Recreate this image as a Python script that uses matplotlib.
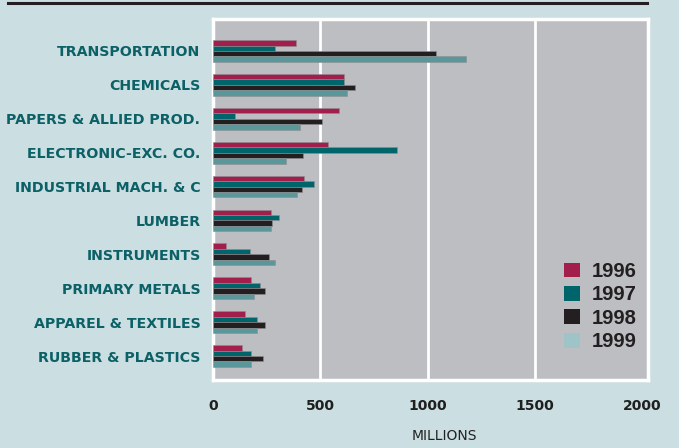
import numpy as np
import matplotlib
matplotlib.use("Agg")
import matplotlib.pyplot as plt
from matplotlib.patches import Patch

categories = ["TRANSPORTATION", "CHEMICALS", "PAPERS & ALLIED PROD.",
              "ELECTRONIC-EXC. CO.", "INDUSTRIAL MACH. & C", "LUMBER",
              "INSTRUMENTS", "PRIMARY METALS", "APPAREL & TEXTILES",
              "RUBBER & PLASTICS"]
years = ["1996", "1997", "1998", "1999"]

v1996 = [385, 609, 586, 535, 422, 269, 60, 179, 147, 135]
v1997 = [288, 610, 102, 857, 469, 306, 172, 220, 203, 176]
v1998 = [1038, 662, 507, 419, 413, 274, 261, 244, 244, 231]
v1999 = [1177, 622, 407, 340, 391, 269, 288, 189, 206, 176]

xticks = [0, 500, 1000, 1500, 2000]

bar_colors = ["#a21f4b", "#00656a", "#231f20", "#5a979b"]
legend_colors = ["#a21f4b", "#00656a", "#231f20", "#9fc4c8"]
bg = "#cbdee2"


def main():
    fig = plt.figure(figsize=(6.79, 4.48), dpi=100, facecolor=bg)
    ax = fig.add_axes([213 / 679, 1 - 380 / 448, 435 / 679, 361 / 448])
    ax.set_facecolor("#bdbec2")

    y = np.arange(len(categories))
    h = 0.16
    series = [v1996, v1997, v1998, v1999]
    for i, vals in enumerate(series):
        ax.barh(y + (i - 1.5) * h, vals, height=h, color=bar_colors[i],
                edgecolor="#8e8e92", linewidth=0.4, zorder=3)

    ax.set_xlim(0, 2025)
    ax.set_ylim(9 + 24 / 33.9, -32 / 33.9)
    ax.set_yticks(y)
    ax.set_yticklabels(categories, fontsize=10.2, fontweight="bold",
                       color="#0b6166")
    ax.set_xticks(xticks)
    ax.set_xticklabels([str(t) for t in xticks], fontsize=10,
                       fontweight="bold", color="#1f1f1f")
    ax.tick_params(axis="y", length=0, pad=9)
    ax.tick_params(axis="x", length=0, pad=14)

    for gx in [500, 1000, 1500]:
        ax.axvline(gx, color="white", linewidth=2, zorder=2)
    for s in ax.spines.values():
        s.set_color("white")
        s.set_linewidth(2.5)

    ax.set_xlabel("MILLIONS", fontsize=10, color="#222222")
    ax.xaxis.set_label_coords(0.533, -0.135)

    # top rule
    fig.add_artist(plt.Line2D([8 / 679, 647 / 679], [1 - 3.5 / 448] * 2,
                              color="#231f20", linewidth=2.2))

    handles = [Patch(facecolor=c, edgecolor="none") for c in legend_colors]
    fig.legend(handles, years, loc="upper left",
               bbox_to_anchor=(564 / 679, 1 - 262 / 448), frameon=False,
               prop={"family": "Liberation Sans", "weight": "bold", "size": 14.5},
               labelcolor="#231f20", handlelength=0.8, handleheight=0.75,
               handletextpad=0.6, labelspacing=0.22, borderpad=0,
               borderaxespad=0)

    fig.savefig("out.png", dpi=100, facecolor=bg)


if __name__ == "__main__":
    main()
